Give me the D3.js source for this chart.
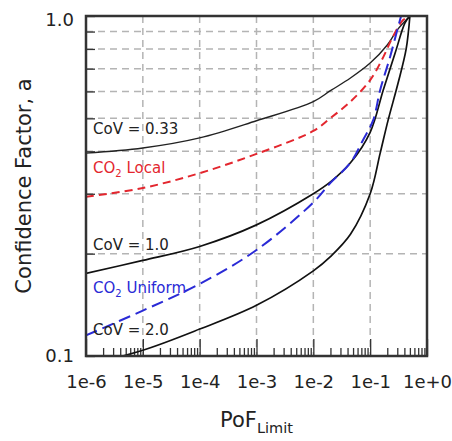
<!DOCTYPE html>
<html>
<head>
<meta charset="utf-8">
<script src="https://cdn.jsdelivr.net/npm/d3@7"></script>
<style>
  body { margin: 0; background: #fff; }
  svg { display: block; font-family: "DejaVu Sans", Verdana, sans-serif; }
</style>
</head>
<body>
<svg id="svg"></svg>
<script>
// values
const covLowPof = [1e-6, 1e-5, 1e-4, 1e-3, 1e-2, 0.02, 0.045, 0.1, 0.2, 0.3, 0.5];
const covLowA = [0.395, 0.409, 0.438, 0.492, 0.56, 0.603, 0.657, 0.727, 0.822, 0.91, 1.0];

const localPof = [1e-6, 1e-5, 1e-4, 1e-3, 1e-2, 0.02, 0.045, 0.1, 0.17, 0.25, 0.38, 0.5];
const localA = [0.294, 0.312, 0.345, 0.393, 0.459, 0.501, 0.56, 0.648, 0.757, 0.868, 0.973, 1.0];

const covMidPof = [1e-6, 1e-5, 1e-4, 1e-3, 1e-2, 0.02, 0.045, 0.1, 0.17, 0.275, 0.41, 0.5];
const covMidA = [0.175, 0.191, 0.21, 0.243, 0.30, 0.325, 0.37, 0.455, 0.606, 0.778, 0.954, 1.0];

const uniformPof = [1e-6, 1e-5, 1e-4, 1e-3, 1e-2, 0.02, 0.045, 0.075, 0.113, 0.15, 0.224, 0.3, 0.35];
const uniformA = [0.115, 0.136, 0.163, 0.205, 0.283, 0.323, 0.37, 0.432, 0.494, 0.606, 0.758, 0.91, 1.0];

const covHighPof = [1e-6, 1e-5, 1e-4, 1e-3, 1e-2, 0.02, 0.045, 0.1, 0.15, 0.207, 0.31, 0.43, 0.5];
const covHighA = [0.094, 0.104, 0.12, 0.141, 0.178, 0.196, 0.228, 0.30, 0.395, 0.494, 0.635, 0.80, 1.0];

const xMajor = [1e-6, 1e-5, 1e-4, 1e-3, 1e-2, 1e-1, 1];
const xLabels = ["1e-6", "1e-5", "1e-4", "1e-3", "1e-2", "1e-1", "1e+0"];
const yGrid = [0.2, 0.3, 0.4, 0.5, 0.6, 0.7, 0.8, 0.9];
const yLabels = { 0.1: "0.1", 1: "1.0" };

const width = 452;
const height = 441;
const plotLeft = 86, plotRight = 427, plotTop = 16, plotBottom = 356;

let svg = d3.select("#svg").attr("width", width).attr("height", height);

const x = d3.scaleLog().domain([1e-6, 1]).range([plotLeft, plotRight]);
const y = d3.scaleLog().domain([0.1, 1]).range([plotBottom, plotTop]);

// grid
const grid = svg.append("g")
    .attr("stroke", "#b4b4b4")
    .attr("stroke-width", 1.5)
    .attr("stroke-dasharray", "7,5");
grid.selectAll(".hg").data(yGrid).join("line")
    .attr("x1", plotLeft).attr("x2", plotRight)
    .attr("y1", d => y(d)).attr("y2", d => y(d));
grid.selectAll(".vg").data(xMajor.slice(1, -1)).join("line")
    .attr("y1", plotTop).attr("y2", plotBottom)
    .attr("x1", d => x(d)).attr("x2", d => x(d));

// minor ticks on bottom
let minors = [];
for (let e = -6; e < 0; e++) {
    for (let m = 2; m <= 9; m++) minors.push(m * Math.pow(10, e));
}
svg.append("g")
    .attr("transform", `translate(0,${plotBottom})`)
    .call(d3.axisBottom(x).tickValues(minors).tickSize(-8).tickFormat(""))
    .call(g => g.select(".domain").remove())
    .call(g => g.selectAll("line").attr("stroke", "#333").attr("stroke-width", 1.3));

// major ticks + labels on bottom
svg.append("g")
    .attr("transform", `translate(0,${plotBottom})`)
    .call(d3.axisBottom(x).tickValues(xMajor).tickSize(-17).tickPadding(19)
        .tickFormat((d, i) => xLabels[i]))
    .call(g => g.select(".domain").remove())
    .call(g => g.selectAll("line").attr("stroke", "#333").attr("stroke-width", 1.3))
    .call(g => g.selectAll("text").attr("font-size", 18).attr("fill", "#222")
        .attr("font-family", "DejaVu Sans"));

// left axis
svg.append("g")
    .attr("transform", `translate(${plotLeft},0)`)
    .call(d3.axisLeft(y).tickValues([0.1].concat(yGrid, [1])).tickSize(-9).tickPadding(12)
        .tickFormat(d => yLabels[d] || ""))
    .call(g => g.select(".domain").remove())
    .call(g => g.selectAll("line").attr("stroke", "#333").attr("stroke-width", 1.3))
    .call(g => g.selectAll("text").attr("font-size", 18).attr("fill", "#222")
        .attr("font-family", "DejaVu Sans"))
    .call(g => g.selectAll(".tick").filter(d => d === 1).select("text").attr("dy", "0.5em"));

// curves
svg.append("clipPath").attr("id", "clip")
    .append("rect").attr("x", plotLeft).attr("y", plotTop)
    .attr("width", plotRight - plotLeft).attr("height", plotBottom - plotTop);

const line = d3.line()
    .x(d => x(d[0]))
    .y(d => y(d[1]))
    .curve(d3.curveCatmullRom.alpha(0.5));

const series = [
    { pof: covLowPof, a: covLowA, color: "#222", dash: null, w: 1.4 },
    { pof: localPof, a: localA, color: "#e3262e", dash: "8,5", w: 2 },
    { pof: covMidPof, a: covMidA, color: "#111", dash: null, w: 1.7 },
    { pof: uniformPof, a: uniformA, color: "#2a2ad6", dash: "12,6", w: 2 },
    { pof: covHighPof, a: covHighA, color: "#111", dash: null, w: 1.7 }
];

const curves = svg.append("g").attr("clip-path", "url(#clip)");
series.forEach(s => {
    curves.append("path")
        .datum(s.pof.map((p, i) => [p, s.a[i]]))
        .attr("d", line)
        .attr("fill", "none")
        .attr("stroke", s.color)
        .attr("stroke-width", s.w)
        .attr("stroke-dasharray", s.dash);
});

// frame
svg.append("rect")
    .attr("x", plotLeft).attr("y", plotTop)
    .attr("width", plotRight - plotLeft).attr("height", plotBottom - plotTop)
    .attr("fill", "none")
    .attr("stroke", "#333")
    .attr("stroke-width", 2.5);

// curve labels
function label(yy, color, main, sub, rest) {
    let t = svg.append("text")
        .attr("x", plotLeft + 7).attr("y", yy)
        .attr("font-size", 15)
        .attr("fill", color);
    t.append("tspan").text(main);
    if (sub) {
        t.append("tspan").attr("font-size", 10).attr("dy", 4).text(sub);
        t.append("tspan").attr("dy", -4).text(rest);
    }
}
label(134, "#222", "CoV = 0.33");
label(173, "#e3262e", "CO", "2", " Local");
label(250, "#222", "CoV = 1.0");
label(293, "#2a2ad6", "CO", "2", " Uniform");
label(335, "#222", "CoV = 2.0");

// axis titles
svg.append("text")
    .attr("transform", "rotate(-90)")
    .attr("x", -(plotTop + plotBottom) / 2)
    .attr("y", 31)
    .attr("text-anchor", "middle")
    .attr("font-size", 21)
    .attr("fill", "#222")
    .text("Confidence Factor, a");

const xt = svg.append("text")
    .attr("x", (plotLeft + plotRight) / 2)
    .attr("y", 427)
    .attr("text-anchor", "middle")
    .attr("font-size", 21)
    .attr("fill", "#222");
xt.append("tspan").text("PoF");
xt.append("tspan").attr("font-size", 14.5).attr("dy", 6).text("Limit");
</script>
</body>
</html>
